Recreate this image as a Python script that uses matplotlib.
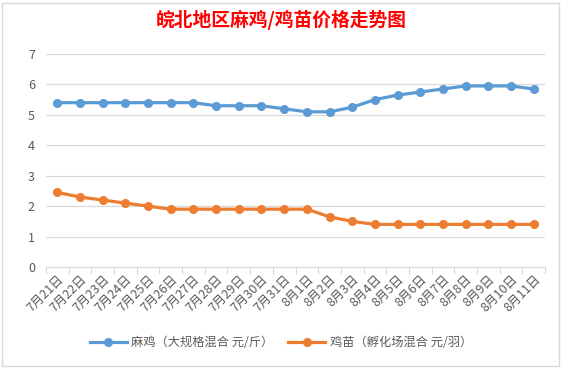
import numpy as np
import matplotlib.pyplot as plt
from matplotlib.patches import Rectangle

plt.rcParams['font.family'] = ['Noto Sans CJK SC', 'DejaVu Sans']

# データ
dates = ['7月21日', '7月22日', '7月23日', '7月24日', '7月25日', '7月26日', '7月27日',
         '7月28日', '7月29日', '7月30日', '7月31日', '8月1日', '8月2日', '8月3日',
         '8月4日', '8月5日', '8月6日', '8月7日', '8月8日', '8月9日', '8月10日', '8月11日']
maji = [5.4, 5.4, 5.4, 5.4, 5.4, 5.4, 5.4, 5.3, 5.3, 5.3, 5.2,
        5.1, 5.1, 5.25, 5.5, 5.65, 5.75, 5.85, 5.95, 5.95, 5.95, 5.85]
jimiao = [2.45, 2.3, 2.2, 2.1, 2.0, 1.9, 1.9, 1.9, 1.9, 1.9, 1.9,
          1.9, 1.65, 1.5, 1.4, 1.4, 1.4, 1.4, 1.4, 1.4, 1.4, 1.4]
label_maji = '麻鸡（大规格混合 元/斤）'
label_jimiao = '鸡苗（孵化场混合 元/羽）'
title = '皖北地区麻鸡/鸡苗价格走势图'

fig = plt.figure(figsize=(5.62, 3.69), dpi=100)
# チャート枠
fig.patches.append(Rectangle((2 / 562, 3 / 369), 557 / 562, 363 / 369,
                             transform=fig.transFigure, fill=False,
                             edgecolor='#D9D9D9', linewidth=1))

ax = fig.add_axes([46 / 562, 1 - 267 / 369, 499 / 562, 213 / 369])
x = np.arange(len(dates))
ax.plot(x, maji, color='#5B9BD5', lw=2.3, marker='o', ms=5.5, label=label_maji)
ax.plot(x, jimiao, color='#ED7D31', lw=2.3, marker='o', ms=5.5, label=label_jimiao)

ax.set_xlim(-0.5, len(dates) - 0.5)
ax.set_ylim(0, 7)
ax.set_yticks(range(8))
ax.yaxis.grid(True, color='#D9D9D9', lw=0.9)
ax.set_axisbelow(True)
for s in ['top', 'right', 'left']:
    ax.spines[s].set_visible(False)
ax.spines['bottom'].set_color('#D9D9D9')
ax.tick_params(axis='y', length=0, labelsize=9, colors='#595959', pad=8)

# 目盛りは区間の境界
ax.set_xticks(np.arange(-0.5, len(dates), 1))
ax.set_xticklabels([])
ax.tick_params(axis='x', which='major', length=5, color='#D9D9D9')
ax.set_xticks(x, minor=True)
ax.set_xticklabels(dates, minor=True, rotation=45, ha='right',
                   rotation_mode='anchor', fontsize=9, color='#595959')
ax.tick_params(axis='x', which='minor', length=0, pad=4)

fig.text(0.5, 1 - 20 / 369, title, ha='center', va='center',
         fontsize=13.5, fontweight='bold', color='#FF0000')
fig.legend(loc='center', bbox_to_anchor=(0.5, 1 - 343 / 369), ncol=2,
           frameon=False, fontsize=8.8, labelcolor='#595959',
           handlelength=3, columnspacing=1.2, handletextpad=0.4)

fig.savefig('out.png', dpi=100)
